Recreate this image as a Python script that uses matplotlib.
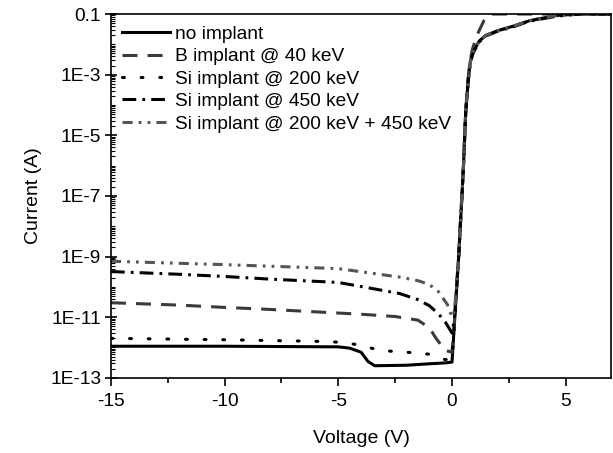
import matplotlib
matplotlib.use('Agg')
import matplotlib.pyplot as plt
from matplotlib.ticker import LogLocator, FixedLocator, MultipleLocator, NullFormatter
import numpy as np

plt.rcParams['font.family'] = ['Liberation Sans', 'DejaVu Sans']
plt.rcParams['axes.unicode_minus'] = False

# forward branch shared voltage points
v_fwd = [0.1, 0.2, 0.3, 0.4, 0.5, 0.6, 0.7, 0.8, 0.9, 1.0, 1.2, 1.5, 2.0, 2.7, 3.4, 4.6, 5.6, 7.0]

# no implant
v_none = [-15, -10, -5, -4.5, -4.0, -3.7, -3.4, -2.0, -1.0, -0.3, 0.0] + v_fwd
i_none = [1.1e-12, 1.1e-12, 1.05e-12, 9.5e-13, 7e-13, 3.5e-13, 2.5e-13, 2.6e-13, 2.9e-13, 3.1e-13, 3.3e-13,
          5e-12, 8e-11, 1.2e-9, 3e-8, 8e-7, 5e-5, 5e-4, 2.5e-3, 5e-3, 7e-3, 1.3e-2, 2e-2, 2.8e-2, 4e-2,
          6e-2, 9e-2, 0.1, 0.1]

# B implant @ 40 keV
v_b = [-15, -12, -10, -8, -6, -4, -2.5, -1.5, -1.0, -0.7, -0.3, 0.0, 0.1, 0.2, 0.3, 0.4, 0.5, 0.6,
       0.7, 0.8, 0.9, 1.1, 1.4, 1.7, 7.0]
i_b = [3e-11, 2.5e-11, 2.1e-11, 1.8e-11, 1.5e-11, 1.25e-11, 1.05e-11, 8e-12, 4.5e-12, 2e-12, 8e-13, 7e-13,
       6e-12, 1e-10, 1.5e-9, 4e-8, 1e-6, 6e-5, 7e-4, 3e-3, 7e-3, 2e-2, 6e-2, 0.1, 0.1]

# Si implant @ 200 keV
v_si200 = [-15, -10, -6, -5, -4, -3.2, -2.0, -1.0, -0.6, -0.3, 0.0] + v_fwd
i_si200 = [2e-12, 1.8e-12, 1.6e-12, 1.5e-12, 1.2e-12, 8e-13, 7e-13, 6e-13, 4.5e-13, 4e-13, 4e-13,
           5e-12, 8e-11, 1.2e-9, 3e-8, 8e-7, 5e-5, 5e-4, 2.5e-3, 5e-3, 7e-3, 1.3e-2, 2e-2, 2.8e-2, 4e-2,
           6e-2, 9e-2, 0.1, 0.1]

# Si implant @ 450 keV
v_si450 = [-15, -12, -10, -8, -5, -3.2, -2.3, -1.5, -1.0, -0.6, -0.3, 0.0] + v_fwd
i_si450 = [3.2e-10, 2.6e-10, 2.2e-10, 1.8e-10, 1.4e-10, 8e-11, 6e-11, 3.8e-11, 2.4e-11, 1.3e-11, 7e-12, 3e-12,
           8e-12, 8e-11, 1.2e-9, 3e-8, 8e-7, 5e-5, 5e-4, 2.3e-3, 4.5e-3, 6.5e-3, 1.2e-2, 1.9e-2, 2.7e-2,
           3.8e-2, 5.8e-2, 8.5e-2, 0.1, 0.1]

# Si implant @ 200 keV + 450 keV
v_si_both = [-15, -12, -10, -8, -5, -3.2, -2.3, -1.5, -1.0, -0.6, -0.2, 0.0] + v_fwd
i_si_both = [7e-10, 6e-10, 5.4e-10, 4.8e-10, 4e-10, 2.6e-10, 2.1e-10, 1.6e-10, 1.2e-10, 7e-11, 2.6e-11, 1e-11,
             1.5e-11, 1e-10, 1.3e-9, 3e-8, 8e-7, 5e-5, 5e-4, 2.5e-3, 5e-3, 7e-3, 1.3e-2, 2e-2, 2.8e-2,
             4e-2, 6e-2, 9e-2, 0.1, 0.1]

labels = ['no implant', 'B implant @ 40 keV', 'Si implant @ 200 keV',
          'Si implant @ 450 keV', 'Si implant @ 200 keV + 450 keV']

fig = plt.figure(figsize=(6.13, 4.53), dpi=100)
ax = fig.add_axes([0.181, 0.166, 0.816, 0.803])

lw = 2.2
ax.plot(v_none, i_none, color='black', linewidth=lw, linestyle='-', label=labels[0])
ax.plot(v_b, i_b, color='#3a3a3a', linewidth=lw, linestyle=(0, (4.9, 3.3)), label=labels[1])
ax.plot(v_si200, i_si200, color='black', linewidth=lw, linestyle=(0, (0.6, 5.5)),
        dash_capstyle='round', label=labels[2])
ax.plot(v_si450, i_si450, color='black', linewidth=lw, linestyle=(0, (4.5, 2.0, 0.9, 2.0)), label=labels[3])
ax.plot(v_si_both, i_si_both, color='#555555', linewidth=lw,
        linestyle=(0, (3.3, 2.0, 0.9, 2.0, 0.9, 2.0)), label=labels[4])

ax.set_yscale('log')
ax.set_xlim(-15, 7)
ax.set_ylim(1e-13, 0.1)

ax.yaxis.set_major_locator(FixedLocator([1e-13, 1e-11, 1e-9, 1e-7, 1e-5, 1e-3, 1e-1]))
ax.yaxis.set_minor_locator(LogLocator(base=10, subs=np.arange(1, 10), numticks=40))
ax.yaxis.set_minor_formatter(NullFormatter())
ax.set_yticklabels(['1E-13', '1E-11', '1E-9', '1E-7', '1E-5', '1E-3', '0.1'])

ax.xaxis.set_major_locator(MultipleLocator(5))
ax.xaxis.set_minor_locator(MultipleLocator(2.5))

ax.tick_params(axis='both', which='major', labelsize=13.8, width=1.2)
ax.tick_params(axis='x', which='major', direction='out', length=6, top=False, pad=5)
ax.tick_params(axis='x', which='minor', direction='out', length=3.5, width=1.2, top=False)
ax.tick_params(axis='y', which='major', direction='inout', length=8, right=False, pad=3)
ax.tick_params(axis='y', which='minor', direction='in', length=3, width=0.8, right=False)

for s in ax.spines.values():
    s.set_linewidth(1.2)

ax.set_xlabel('Voltage (V)', fontsize=14, labelpad=14)
ax.set_ylabel('Current (A)', fontsize=14, labelpad=6)

ax.legend(loc='upper left', frameon=False, fontsize=13.8, handlelength=2.5,
          handletextpad=0.25, labelspacing=0.26, borderaxespad=0.3, borderpad=0.3)

fig.savefig('out.png', dpi=100)
